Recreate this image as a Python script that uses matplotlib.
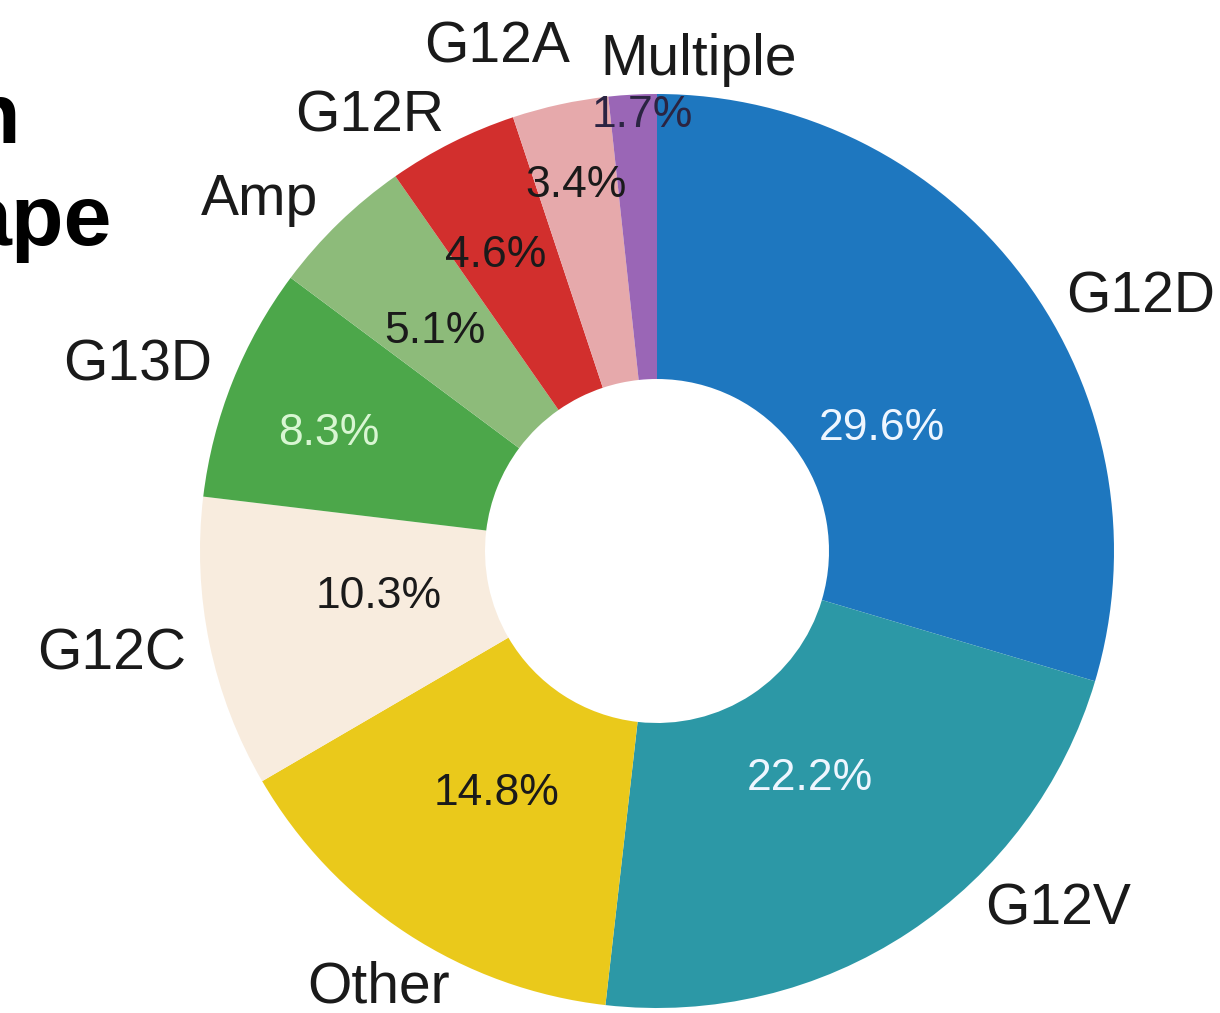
import numpy as np
import matplotlib
matplotlib.use('Agg')
import matplotlib.pyplot as plt

plt.rcParams['font.family'] = ['Liberation Sans', 'DejaVu Sans']

# KRAS alteration shares (%)
labels = ['G12D', 'G12V', 'Other', 'G12C', 'G13D', 'Amp', 'G12R', 'G12A', 'Multiple']
shares = [29.6, 22.2, 14.8, 10.3, 8.3, 5.1, 4.6, 3.4, 1.7]
colors = ['#1e77bf', '#2c98a6', '#eac91b', '#f8ecde', '#4ca74a',
          '#8dbb7a', '#d22f2d', '#e6a9ab', '#9a66b6']
pct_colors = ['#eef6ff', '#eef6ff', '#1a1a1a', '#1a1a1a', '#d8f6d2',
              '#1a1a1a', '#1a1a1a', '#1a1a1a', '#2b2442']

# text anchors (x, y baseline) in units of the outer radius
label_pos = [(1.059, 0.521), (0.877, -0.818), (-0.610, -0.989), (-1.193, -0.260),
             (-1.136, 0.374), (-0.869, 0.735), (-0.628, 0.917), (-0.350, 1.068),
             (0.092, 1.042)]
pct_pos = [(0.492, 0.243), (0.335, -0.523), (-0.350, -0.556), (-0.608, -0.125),
           (-0.718, 0.232), (-0.486, 0.455), (-0.354, 0.621), (-0.177, 0.775),
           (-0.033, 0.928)]

W, H = 1220, 1013
unit = 457.0
cx, cy = 657.0, 551.0

fig = plt.figure(figsize=(W / 100, H / 100), dpi=100)
ax = fig.add_axes([0, 0, 1, 1])

wedges, texts, autotexts = ax.pie(
    shares, labels=labels, colors=colors, startangle=90, counterclock=False,
    radius=1.0, autopct=lambda p: '{:.1f}%'.format(p),
    wedgeprops=dict(width=1 - 172 / unit, linewidth=0))

for t, (x, y) in zip(texts, label_pos):
    t.set_position((x, y))
    t.set_ha('center')
    t.set_va('baseline')
    t.set_fontsize(41)
    t.set_color('#1a1a1a')

for t, (x, y), c in zip(autotexts, pct_pos, pct_colors):
    t.set_position((x, y))
    t.set_ha('center')
    t.set_va('baseline')
    t.set_fontsize(32)
    t.set_color(c)

ax.set_aspect('auto')
ax.set_xlim(-cx / unit, (W - cx) / unit)
ax.set_ylim(-(H - cy) / unit, cy / unit)
ax.axis('off')

# heading, running off the left edge
fig.text(20 / W, 1 - 143 / H, 'n', ha='right', va='baseline', fontsize=62,
         fontweight='bold', family=['Liberation Sans Narrow', 'Liberation Sans'])
fig.text(112 / W, 1 - 245 / H, 'ape', ha='right', va='baseline', fontsize=62,
         fontweight='bold', family=['Liberation Sans Narrow', 'Liberation Sans'])

fig.savefig('out.png', dpi=100, facecolor='white')
